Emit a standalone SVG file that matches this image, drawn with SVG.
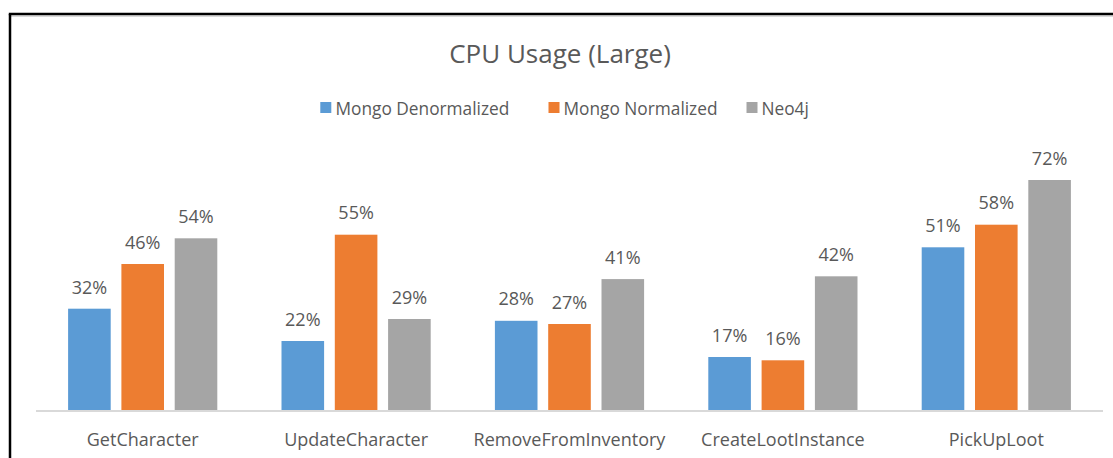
<svg xmlns="http://www.w3.org/2000/svg" width="1113" height="458" viewBox="0 0 1113 458">
<style>
.t{font-family:"Open Sans","Liberation Sans",sans-serif;fill:#595959;text-anchor:middle}
.title{font-size:26px}
.leg{font-size:17.3px;text-anchor:start}
.lbl{font-size:18px}
.cat{font-size:18px}
.b{fill:#5B9BD5}
.o{fill:#ED7D31}
.g{fill:#A5A5A5}
</style>
<rect x="0" y="0" width="1113" height="458" fill="#ffffff"/>
<g id="frame">
<line x1="10" y1="16.2" x2="1113" y2="16.2" stroke="#c8c8c8" stroke-width="1"/>
<line x1="8.8" y1="14" x2="1113" y2="14" stroke="#000" stroke-width="2.5"/>
<line x1="10" y1="14" x2="10" y2="458" stroke="#000" stroke-width="2.5"/>
</g>
<g id="title"><text class="t title" x="560" y="62.5">CPU Usage (Large)</text></g>
<g id="legend">
<rect class="b" x="320.3" y="102" width="11" height="11"/>
<text class="t leg" x="335.5" y="115">Mongo Denormalized</text>
<rect class="o" x="548.5" y="102" width="11" height="11"/>
<text class="t leg" x="563.5" y="115">Mongo Normalized</text>
<rect class="g" x="746.5" y="102" width="11" height="11"/>
<text class="t leg" x="761.5" y="115">Neo4j</text>
</g>
<g id="axis"><line x1="36" y1="411" x2="1103" y2="411" stroke="#d9d9d9" stroke-width="2"/></g>
<g id="GetCharacter">
<rect class="b" x="68.1" y="308.7" width="42.6" height="101.3"/>
<rect class="o" x="121.4" y="264" width="42.6" height="146"/>
<rect class="g" x="174.7" y="238.3" width="42.6" height="171.7"/>
<text class="t lbl" x="89.4" y="293.5">32%</text>
<text class="t lbl" x="142.7" y="248.5">46%</text>
<text class="t lbl" x="196" y="222.5">54%</text>
<text class="t cat" x="142.7" y="445.5">GetCharacter</text>
</g>
<g id="UpdateCharacter">
<rect class="b" x="281.5" y="341" width="42.6" height="69"/>
<rect class="o" x="334.8" y="234.7" width="42.6" height="175.3"/>
<rect class="g" x="388.1" y="319" width="42.6" height="91"/>
<text class="t lbl" x="302.8" y="325.5">22%</text>
<text class="t lbl" x="356.1" y="219">55%</text>
<text class="t lbl" x="409.4" y="303.5">29%</text>
<text class="t cat" x="356.1" y="445.5">UpdateCharacter</text>
</g>
<g id="RemoveFromInventory">
<rect class="b" x="494.9" y="320.8" width="42.6" height="89.2"/>
<rect class="o" x="548.2" y="324" width="42.6" height="86"/>
<rect class="g" x="601.5" y="279.1" width="42.6" height="130.9"/>
<text class="t lbl" x="516.2" y="305.3">28%</text>
<text class="t lbl" x="569.5" y="308.5">27%</text>
<text class="t lbl" x="622.8" y="263.6">41%</text>
<text class="t cat" x="569.5" y="445.5">RemoveFromInventory</text>
</g>
<g id="CreateLootInstance">
<rect class="b" x="708.3" y="357" width="42.6" height="53"/>
<rect class="o" x="761.6" y="360.3" width="42.6" height="49.7"/>
<rect class="g" x="814.9" y="276.3" width="42.6" height="133.7"/>
<text class="t lbl" x="729.6" y="341.5">17%</text>
<text class="t lbl" x="782.9" y="344.8">16%</text>
<text class="t lbl" x="836.2" y="260.8">42%</text>
<text class="t cat" x="782.9" y="445.5">CreateLootInstance</text>
</g>
<g id="PickUpLoot">
<rect class="b" x="921.7" y="247.3" width="42.6" height="162.7"/>
<rect class="o" x="975" y="224.7" width="42.6" height="185.3"/>
<rect class="g" x="1028.3" y="180" width="42.6" height="230"/>
<text class="t lbl" x="943" y="231.8">51%</text>
<text class="t lbl" x="996.3" y="209.2">58%</text>
<text class="t lbl" x="1049.6" y="164.5">72%</text>
<text class="t cat" x="996.3" y="445.5">PickUpLoot</text>
</g>
</svg>
